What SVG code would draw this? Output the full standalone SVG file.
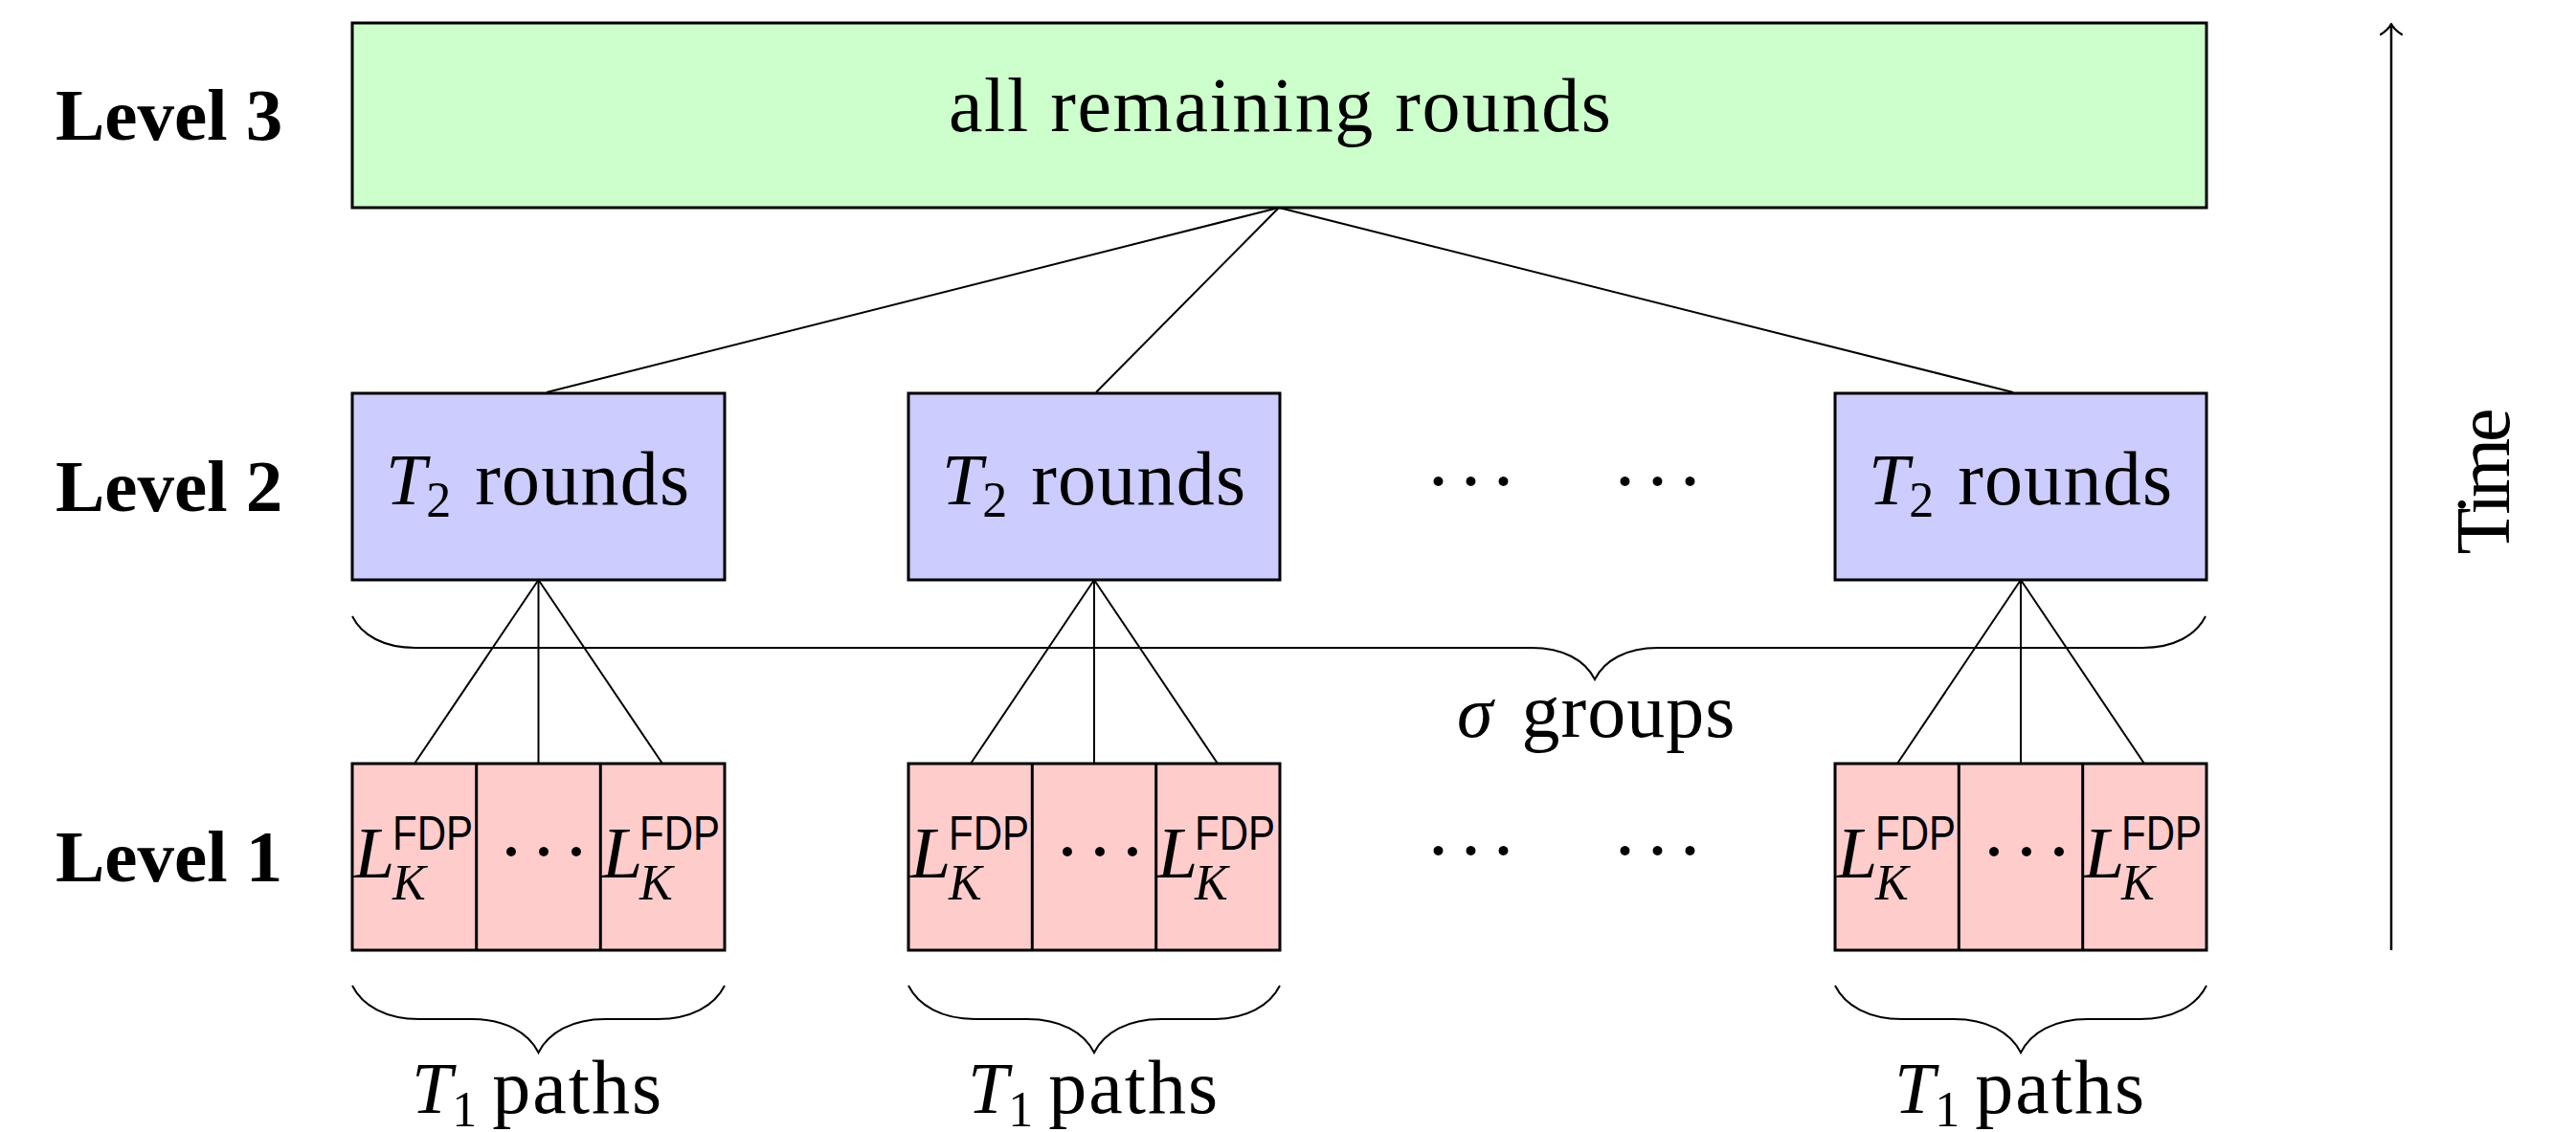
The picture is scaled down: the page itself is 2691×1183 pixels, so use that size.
<svg xmlns="http://www.w3.org/2000/svg" width="2691" height="1183" viewBox="0 0 2691 1183">
<style>
text{font-family:"Liberation Serif","Times New Roman",serif;fill:#000}
.lvl{font-weight:bold;font-size:77px}
.rm{font-size:80px}
.it{font-size:76px;font-style:italic}
.sub{font-size:52px}
.subit{font-size:52px;font-style:italic}
.sf{font-family:"Liberation Sans",Arial,sans-serif;font-size:50px}
.dots{font-size:84px;letter-spacing:6px}
.box{stroke:#000;stroke-width:3}
.g{fill:#ccffcc}.b{fill:#ccccff}.p{fill:#ffcccc}
.cn{stroke:#000;stroke-width:2;fill:none}
</style>
<rect width="2691" height="1183" fill="#fff"/>
<g id="labels">
<text class="lvl" x="58" y="146">Level 3</text>
<text class="lvl" x="58" y="534">Level 2</text>
<text class="lvl" x="58" y="921">Level 1</text>
</g>
<g id="connectors">
<line class="cn" x1="1336" y1="217" x2="571" y2="410"/>
<line class="cn" x1="1336" y1="217" x2="1145" y2="410"/>
<line class="cn" x1="1336" y1="217" x2="2103" y2="410"/>
<line class="cn" x1="562.5" y1="606" x2="433" y2="798"/>
<line class="cn" x1="562.5" y1="606" x2="562.5" y2="798"/>
<line class="cn" x1="562.5" y1="606" x2="692" y2="798"/>
<line class="cn" x1="1143" y1="606" x2="1014" y2="798"/>
<line class="cn" x1="1143" y1="606" x2="1143" y2="798"/>
<line class="cn" x1="1143" y1="606" x2="1272" y2="798"/>
<line class="cn" x1="2111" y1="606" x2="1982" y2="798"/>
<line class="cn" x1="2111" y1="606" x2="2111" y2="798"/>
<line class="cn" x1="2111" y1="606" x2="2240" y2="798"/>
</g>
<g id="level3">
<rect class="box g" x="368" y="24" width="1937" height="193"/>
<text class="rm" x="1337" y="137" text-anchor="middle" textLength="692" lengthAdjust="spacing">all remaining rounds</text>
</g>
<g id="level2-a">
<rect class="box b" x="368" y="411" width="389" height="195"/>
<text class="rm" x="403" y="527"><tspan class="it">T</tspan><tspan class="sub" dy="13">2</tspan><tspan dx="25" dy="-13" letter-spacing="1.2">rounds</tspan></text>
</g>
<g id="level2-b">
<rect class="box b" x="949" y="411" width="388" height="195"/>
<text class="rm" x="984" y="527"><tspan class="it">T</tspan><tspan class="sub" dy="13">2</tspan><tspan dx="25" dy="-13" letter-spacing="1.2">rounds</tspan></text>
</g>
<g id="level2-c">
<rect class="box b" x="1917" y="411" width="388" height="195"/>
<text class="rm" x="1952" y="527"><tspan class="it">T</tspan><tspan class="sub" dy="13">2</tspan><tspan dx="25" dy="-13" letter-spacing="1.2">rounds</tspan></text>
</g>
<g id="level2-dots">
<text class="dots" x="1488.5" y="531">···</text>
<text class="dots" x="1683.5" y="531">···</text>
</g>
<g id="level1-a">
<rect class="box p" x="368" y="798" width="389" height="195"/>
<line class="box" x1="497.7" y1="798" x2="497.7" y2="993"/>
<line class="box" x1="627.3" y1="798" x2="627.3" y2="993"/>
<text class="it" x="370" y="917">L</text><text class="sf" x="410" y="888" textLength="84" lengthAdjust="spacingAndGlyphs">FDP</text><text class="subit" x="410" y="940">K</text>
<text class="dots" x="520" y="918">···</text>
<text class="it" x="629" y="917">L</text><text class="sf" x="668" y="888" textLength="84" lengthAdjust="spacingAndGlyphs">FDP</text><text class="subit" x="668" y="940">K</text>
</g>
<g id="level1-b">
<rect class="box p" x="949" y="798" width="388" height="195"/>
<line class="box" x1="1078.3" y1="798" x2="1078.3" y2="993"/>
<line class="box" x1="1207.7" y1="798" x2="1207.7" y2="993"/>
<text class="it" x="951" y="917">L</text><text class="sf" x="991" y="888" textLength="84" lengthAdjust="spacingAndGlyphs">FDP</text><text class="subit" x="991" y="940">K</text>
<text class="dots" x="1101" y="918">···</text>
<text class="it" x="1209" y="917">L</text><text class="sf" x="1248" y="888" textLength="84" lengthAdjust="spacingAndGlyphs">FDP</text><text class="subit" x="1248" y="940">K</text>
</g>
<g id="level1-c">
<rect class="box p" x="1917" y="798" width="388" height="195"/>
<line class="box" x1="2046.3" y1="798" x2="2046.3" y2="993"/>
<line class="box" x1="2175.7" y1="798" x2="2175.7" y2="993"/>
<text class="it" x="1919" y="917">L</text><text class="sf" x="1959" y="888" textLength="84" lengthAdjust="spacingAndGlyphs">FDP</text><text class="subit" x="1959" y="940">K</text>
<text class="dots" x="2069" y="918">···</text>
<text class="it" x="2177" y="917">L</text><text class="sf" x="2216" y="888" textLength="84" lengthAdjust="spacingAndGlyphs">FDP</text><text class="subit" x="2216" y="940">K</text>
</g>
<g id="level1-dots">
<text class="dots" x="1488.5" y="917">···</text>
<text class="dots" x="1683.5" y="917">···</text>
</g>
<g id="braces">
<path class="cn" d="M368 644 C378 664 401 677 434 677 L1600 677 C1633 677 1656 690 1666 710 C1676 690 1699 677 1732 677 L2238 677 C2271 677 2294 664 2304 644"/>
<path class="cn" d="M368 1030 C378.5 1051 403 1065 438 1065 L492.5 1065 C527.5 1065 552 1079 562.5 1100 C573 1079 597.5 1065 632.5 1065 L687 1065 C722 1065 746.5 1051 757 1030"/>
<path class="cn" d="M949 1030 C959.5 1051 984 1065 1019 1065 L1073 1065 C1108 1065 1132.5 1079 1143 1100 C1153.5 1079 1178 1065 1213 1065 L1267 1065 C1302 1065 1326.5 1051 1337 1030"/>
<path class="cn" d="M1917 1030 C1927.5 1051 1952 1065 1987 1065 L2041 1065 C2076 1065 2100.5 1079 2111 1100 C2121.5 1079 2146 1065 2181 1065 L2235 1065 C2270 1065 2294.5 1051 2305 1030"/>
</g>
<g id="brace-labels">
<text class="rm" x="1522" y="770"><tspan class="it">σ</tspan><tspan dx="30" letter-spacing="1">groups</tspan></text>
<text class="rm" x="430" y="1163"><tspan class="it">T</tspan><tspan class="sub" dy="14">1</tspan><tspan dx="16" dy="-14" letter-spacing="2">paths</tspan></text>
<text class="rm" x="1011" y="1163"><tspan class="it">T</tspan><tspan class="sub" dy="14">1</tspan><tspan dx="16" dy="-14" letter-spacing="2">paths</tspan></text>
<text class="rm" x="1979" y="1163"><tspan class="it">T</tspan><tspan class="sub" dy="14">1</tspan><tspan dx="16" dy="-14" letter-spacing="2">paths</tspan></text>
</g>
<g id="time-axis">
<line x1="2498" y1="993" x2="2498" y2="27" stroke="#000" stroke-width="2.5"/>
<path d="M2487 36 Q2495 31 2498 25 Q2501 31 2509 36" fill="none" stroke="#000" stroke-width="2.2" stroke-linecap="round" stroke-linejoin="round"/>
<text class="rm" transform="translate(2621,503) rotate(-90)" text-anchor="middle" textLength="153" lengthAdjust="spacing">Time</text>
</g>
</svg>
